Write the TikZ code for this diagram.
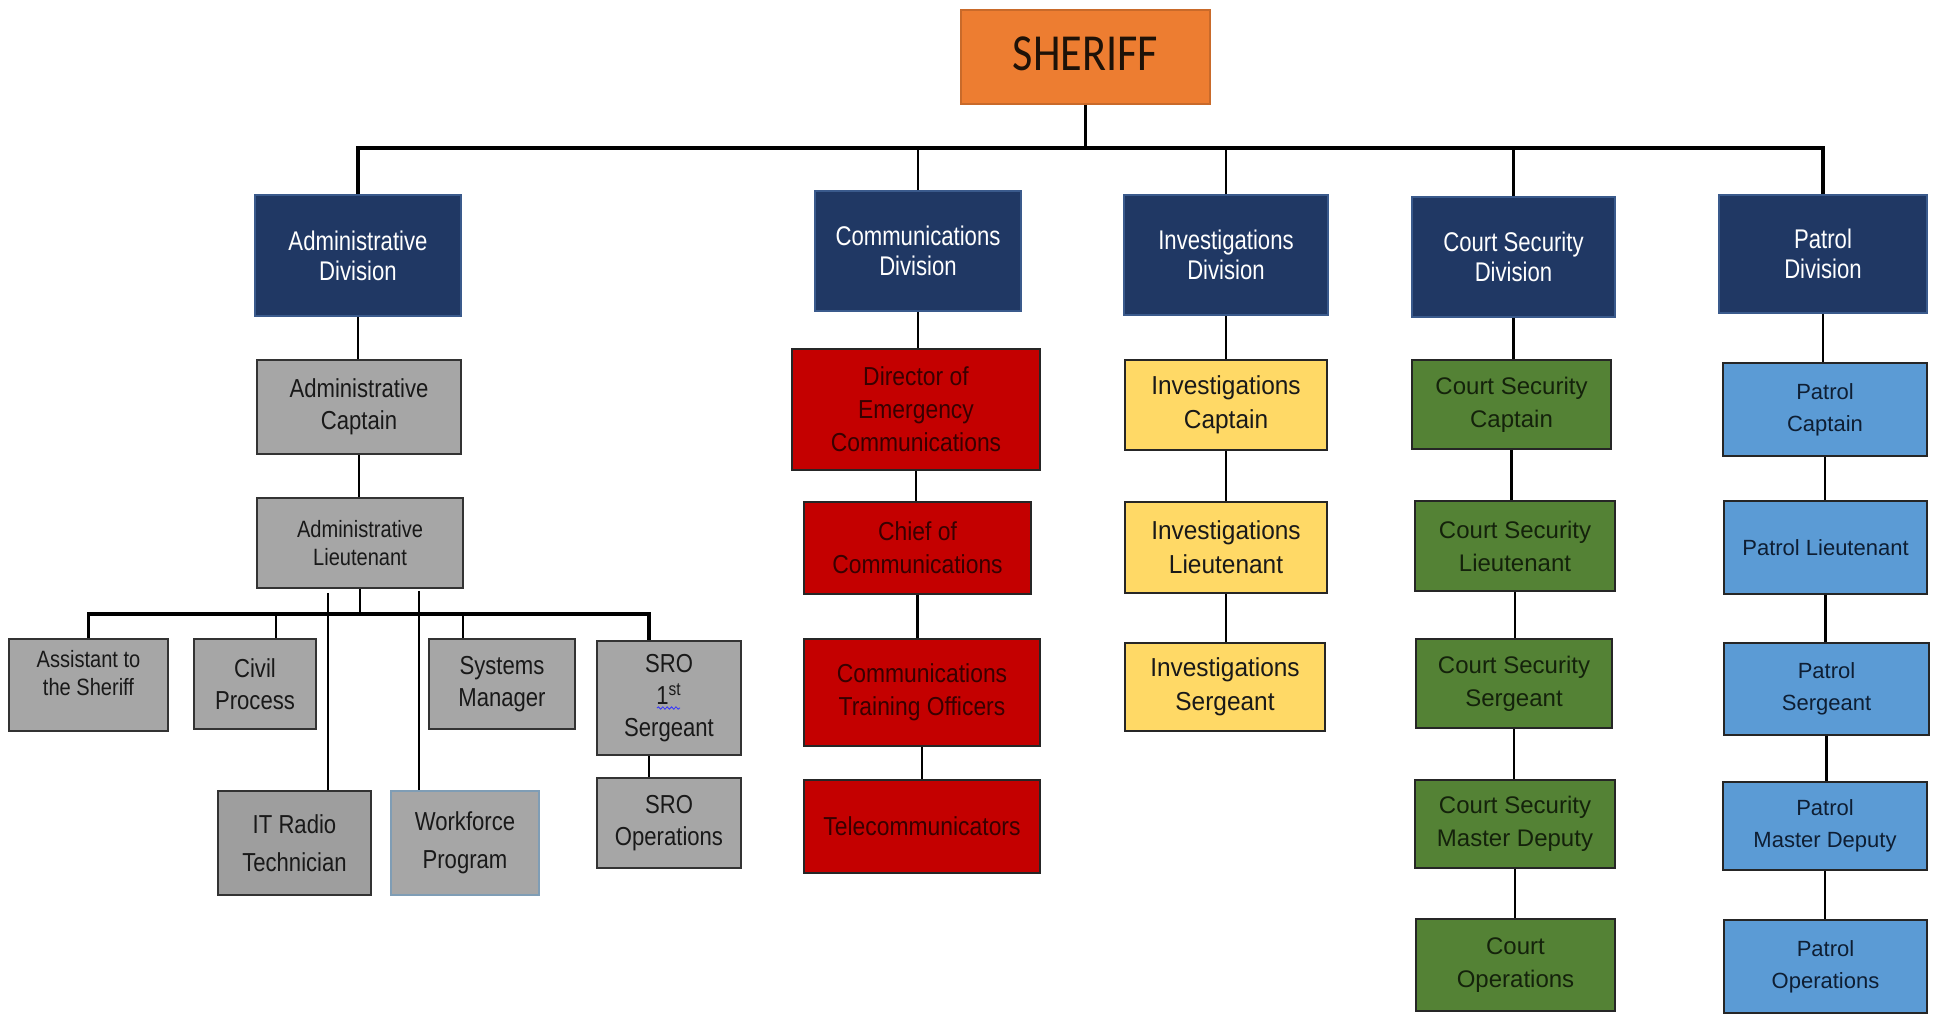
\documentclass[tikz,border=0pt]{standalone}
\usepackage{fontspec}
\setmainfont{Liberation Sans}
\newfontfamily\sherfont[FakeStretch=0.85]{Carlito}
\newfontfamily\divfont[FakeStretch=0.82]{Liberation Sans}
\newfontfamily\admfont[FakeStretch=0.85]{Liberation Sans}
\newfontfamily\comfont[FakeStretch=0.88]{Liberation Sans}
\newfontfamily\invfont[FakeStretch=0.94]{Liberation Sans}
\usetikzlibrary{calc,decorations.pathmorphing}

\definecolor{sheriffor}{HTML}{ED7D31}
\definecolor{shertxt}{HTML}{1E1208}
\definecolor{divnavy}{HTML}{203864}
\definecolor{divedge}{HTML}{3A5A8C}
\definecolor{admgray}{HTML}{A6A6A6}
\definecolor{wfedge}{HTML}{7F9DB5}
\definecolor{comred}{HTML}{C40000}
\definecolor{comtxt}{HTML}{380000}
\definecolor{invyel}{HTML}{FFD966}
\definecolor{crtgreen}{HTML}{548235}
\definecolor{crttxt}{HTML}{14220B}
\definecolor{patblue}{HTML}{5B9BD5}
\definecolor{pattxt}{HTML}{0E1E33}

\tikzset{
    box/.style={draw, rectangle, inner sep=1pt, align=center, line width=0.8pt},
    sz/.style 2 args={minimum width=#1*0.5pt, minimum height=#2*0.5pt},
    sheriffbox/.style={box, fill=sheriffor, draw=sheriffor!85!black, text=shertxt, font=\sherfont\fontsize{26}{30}\selectfont},
    divbox/.style={box, fill=divnavy, draw=divedge, text=white, font=\divfont\fontsize{13.5}{15}\selectfont},
    admbox/.style={box, fill=admgray, draw=black!80, text=black!90, font=\admfont\fontsize{13}{16}\selectfont},
    admsmall/.style={admbox, font=\admfont\fontsize{11.8}{14}\selectfont},
    combox/.style={box, fill=comred, draw=black!85, text=comtxt, font=\comfont\fontsize{13}{16.5}\selectfont},
    invbox/.style={box, fill=invyel, draw=black!85, text=black!90, font=\invfont\fontsize{13}{17}\selectfont},
    crtbox/.style={box, fill=crtgreen, draw=black!85, text=crttxt, font=\fontsize{12}{16.5}\selectfont},
    patbox/.style={box, fill=patblue, draw=black!85, text=pattxt, font=\fontsize{11}{16}\selectfont},
    conn/.style={line width=1.3pt},
    busline/.style={line width=1.8pt},
}

\begin{document}
\begin{tikzpicture}[x=0.5pt, y=-0.5pt]
    \useasboundingbox[fill=white] (0,0) rectangle (1934,1013);

        % Sheriff and divisions
    \node[sheriffbox, sz={249}{94}] (sheriff) at (1085.5,57) {\raisebox{3pt}{SHERIFF}};
    \node[divbox, sz={206}{121}] (admdiv) at (358,255.5) {Administrative\\Division};
    \node[divbox, sz={206}{120}] (comdiv) at (918,251) {Communications\\Division};
    \node[divbox, sz={204}{120}] (invdiv) at (1226,255) {Investigations\\Division};
    \node[divbox, sz={203}{120}] (crtdiv) at (1513.5,257) {Court Security\\Division};
    \node[divbox, sz={208}{118}] (patdiv) at (1823,254) {Patrol\\Division};

        % Administrative column
    \node[admbox, sz={204}{94}] (admcap) at (359,407) {Administrative\\Captain};
    \node[admsmall, sz={206}{90}] (admlt) at (360,543) {Administrative\\Lieutenant};
    \node[admsmall, sz={159}{92}, text depth=12pt] (asst) at (88.5,685) {Assistant to\\the Sheriff};
    \node[admbox, sz={122}{90}] (civil) at (255,684) {Civil\\Process};
    \node[admbox, sz={153}{104}, fill=admgray!95!black] (itradio) at (294.5,843) {IT Radio\\[3pt]Technician};
    \node[admbox, sz={148}{104}, draw=wfedge] (workforce) at (465,843) {Workforce\\[3pt]Program};
    \node[admbox, sz={146}{90}] (sysmgr) at (502,684) {Systems\\Manager};
    \node[admbox, sz={144}{114}] (sro1) at (669,698) {SRO\\1\textsuperscript{st}\\Sergeant};
    \node[admbox, sz={144}{90}] (sroops) at (669,823) {SRO\\Operations};
    \draw[blue!80, decorate, decoration={snake, amplitude=0.6pt, segment length=2.2pt}]
        ($(sro1.center)+(-12,10)$) -- ($(sro1.center)+(11,10)$);

        % Communications column
    \node[combox, sz={248}{121}] (direc) at (916,409.5) {Director of\\Emergency\\Communications};
    \node[combox, sz={227}{92}] (chief) at (917.5,548) {Chief of\\Communications};
    \node[combox, sz={236}{107}] (cto) at (922,692.5) {Communications\\Training Officers};
    \node[combox, sz={236}{93}] (tele) at (922,826.5) {Telecommunicators};

        % Investigations column
    \node[invbox, sz={202}{90}] (invcap) at (1226,405) {Investigations\\Captain};
    \node[invbox, sz={202}{91}] (invlt) at (1226,547.5) {Investigations\\Lieutenant};
    \node[invbox, sz={200}{88}] (invsgt) at (1225,687) {Investigations\\Sergeant};

        % Court security column
    \node[crtbox, sz={199}{89}] (crtcap) at (1511.5,404.5) {Court Security\\Captain};
    \node[crtbox, sz={200}{90}] (crtlt) at (1515,546) {Court Security\\Lieutenant};
    \node[crtbox, sz={196}{89}] (crtsgt) at (1514,683.5) {Court Security\\Sergeant};
    \node[crtbox, sz={200}{88}] (crtmd) at (1515,824) {Court Security\\Master Deputy};
    \node[crtbox, sz={199}{92}] (crtops) at (1515.5,965) {Court\\Operations};

        % Patrol column
    \node[patbox, sz={204}{93}] (patcap) at (1825,409.5) {Patrol\\Captain};
    \node[patbox, sz={203}{93}] (patlt) at (1825.5,547.5) {Patrol Lieutenant};
    \node[patbox, sz={205}{92}] (patsgt) at (1826.5,689) {Patrol\\Sergeant};
    \node[patbox, sz={204}{88}] (patmd) at (1825,826) {Patrol\\Master Deputy};
    \node[patbox, sz={203}{93}] (patops) at (1825.5,966.5) {Patrol\\Operations};

        % Top bus
    \coordinate (bus) at (0,148);
    \draw[conn] (sheriff.south) -- (sheriff.south |- bus);
    \draw[busline] (admdiv.north) |- (patdiv.north |- bus) -- (patdiv.north);
    \foreach \n in {comdiv, invdiv, crtdiv}
        \draw[conn] (\n.north) -- (\n.north |- bus);

        % Chains down each column
    \foreach \a/\b in {admdiv/admcap, admcap/admlt, comdiv/direc, direc/chief, chief/cto, cto/tele,
        invdiv/invcap, invcap/invlt, invlt/invsgt, crtdiv/crtcap, crtcap/crtlt, crtlt/crtsgt,
        crtsgt/crtmd, crtmd/crtops, patdiv/patcap, patcap/patlt, patlt/patsgt, patsgt/patmd, patmd/patops}
        \draw[conn] (\a.south) -- (\a.south |- \b.north);

        % Lieutenant's staff bus
    \coordinate (sub) at (0,614);
    \coordinate (civtop) at ($(civil.north)+(21,0)$);
    \coordinate (systop) at ($(sysmgr.north)+(-39,0)$);
    \coordinate (srotop) at ($(sro1.north)+(-20,0)$);
    \coordinate (ittop) at ($(itradio.north)+(33.5,0)$);
    \coordinate (wftop) at ($(workforce.north)+(-46,0)$);
    \draw[conn] (admlt.south) -- (admlt.south |- sub);
    \draw[busline] (asst.north) |- (srotop |- sub) -- (srotop);
    \foreach \c in {civtop, systop}
        \draw[conn] (\c) -- (\c |- sub);
    \draw[conn] ($(ittop |- admlt.south)+(0,4)$) -- (ittop);
    \draw[conn] ($(wftop |- admlt.south)+(0,2)$) -- (wftop);
    \draw[conn] ($(sro1.south)+(-20,0)$) -- ($(sroops.north)+(-20,0)$);
\end{tikzpicture}
\end{document}
